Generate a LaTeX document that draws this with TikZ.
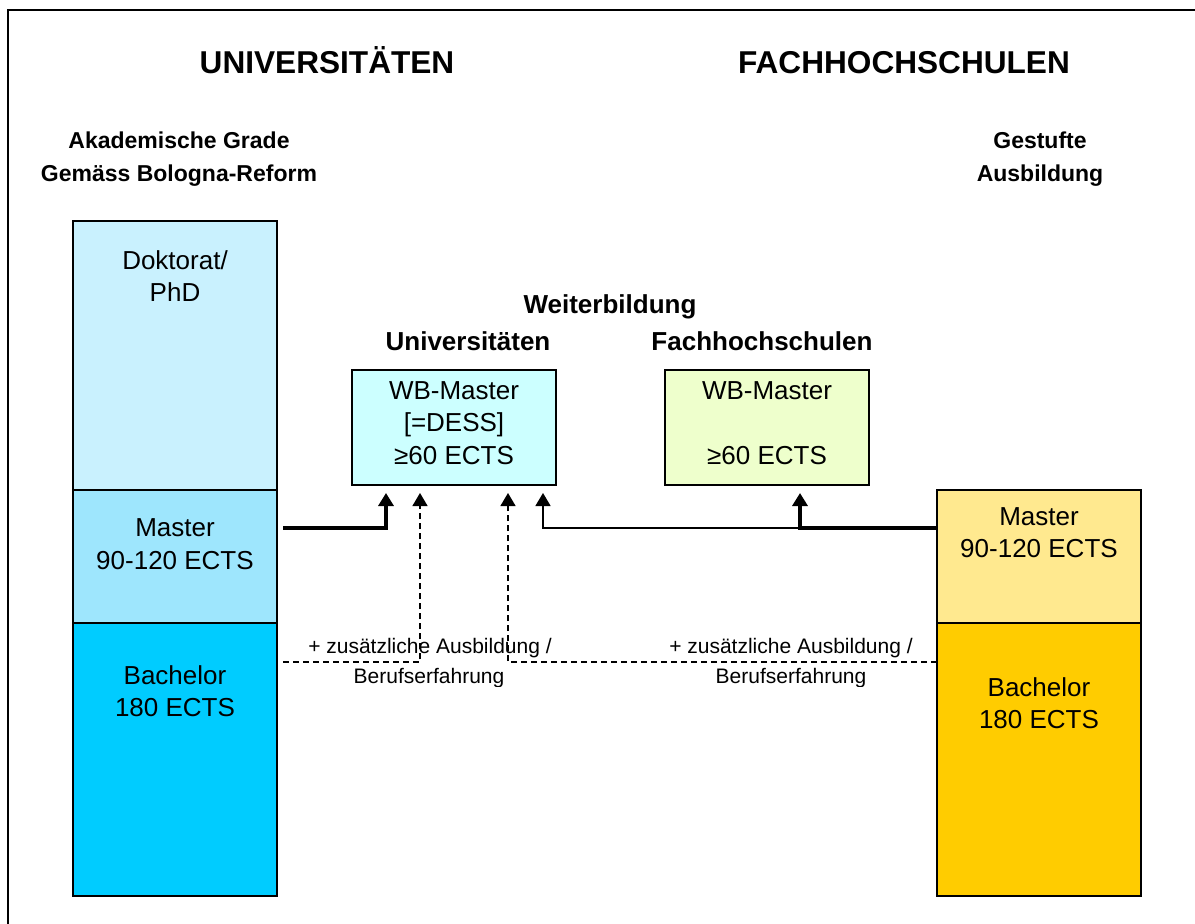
\documentclass[tikz,border=0pt]{standalone}
\usepackage{fontspec}
\setmainfont{Liberation Sans}
\usetikzlibrary{arrows.meta}
\definecolor{dokcol}{HTML}{C9F1FE}
\definecolor{umascol}{HTML}{9EE6FD}
\definecolor{ubachcol}{HTML}{00CCFF}
\definecolor{fmascol}{HTML}{FFE98F}
\definecolor{fbachcol}{HTML}{FFCC00}
\definecolor{wbucol}{HTML}{CCFFFF}
\definecolor{wbfcol}{HTML}{EEFFCC}

\tikzset{
  col/.style={draw, line width=2, minimum width=204, minimum height=#1, inner sep=0},
  wbbox/.style={draw, line width=2, minimum width=204, minimum height=115, inner sep=0},
  body/.style={font=\fontsize{26}{32.5}\selectfont, align=center, inner sep=0},
  head/.style={font=\bfseries\fontsize{31.6}{36}\selectfont, inner sep=0, anchor=base},
  subhead/.style={font=\bfseries\fontsize{23}{33}\selectfont, align=center, inner sep=0},
  wbhead/.style={font=\bfseries\fontsize{26}{33}\selectfont, inner sep=0},
  note/.style={font=\fontsize{21}{30}\selectfont, inner sep=0, anchor=base},
  tip/.style={-{Triangle[length=13pt,width=15pt]}},
  strongpath/.style={line width=3.5},
  thinpath/.style={line width=1.5},
  dashpath/.style={line width=1.3, dash pattern=on 6pt off 4pt},
}

\begin{document}
\begin{tikzpicture}[x=1pt, y=-1pt]
  \useasboundingbox (0,0) rectangle (1195,924);
  \draw[line width=2.2] (8,10) rectangle (1215,940);

  % headings
  \node[head] (huni) at (327,73) {UNIVERSITÄTEN};
  \node[head] (hfh) at (904,73) {FACHHOCHSCHULEN};
  \node[subhead] (hgrade) at (179,159) {Akademische Grade\\Gemäss Bologna-Reform};
  \node[subhead] (hstufe) at (1040,159) {Gestufte\\Ausbildung};

  % universities column
  \node[col=269, fill=dokcol] (udok) at (175,355.5) {};
  \node[col=133, fill=umascol] (umas) at (175,556.5) {};
  \node[col=273, fill=ubachcol] (ubach) at (175,759.5) {};
  \node[body] (tdok) at (175,276) {Doktorat/\\PhD};
  \node[body] (tumas) at (175,544) {Master\\90-120 ECTS};
  \node[body] (tubach) at (175,691) {Bachelor\\180 ECTS};

  % universities of applied sciences column
  \node[col=133, fill=fmascol] (fmas) at (1039,556.5) {};
  \node[col=273, fill=fbachcol] (fbach) at (1039,759.5) {};
  \node[body] (tfmas) at (1039,532.5) {Master\\90-120 ECTS};
  \node[body] (tfbach) at (1039,703) {Bachelor\\180 ECTS};

  % further education
  \node[wbhead] (hwb) at (610,307) {Weiterbildung};
  \node[wbhead] (hwbu) at (468,341) {Universitäten};
  \node[wbhead] (hwbf) at (762,341) {Fachhochschulen};
  \node[wbbox, fill=wbucol] (wbu) at (454,427.5) {};
  \node[wbbox, fill=wbfcol] (wbf) at (767,427.5) {};
  \node[body] (twbu) at (454,423) {WB-Master\\{[}=DESS{]}\\≥60 ECTS};
  \node[body] (twbf) at (767,423) {WB-Master\\\mbox{}\\≥60 ECTS};

  % free ends of the connectors
  \coordinate (uout) at (283,528);
  \coordinate (fout) at (937,528);
  \coordinate (udash) at (283,662);
  \coordinate (fdash) at (937,662);

  \draw[strongpath, tip] (uout) -| ([xshift=35pt,yshift=-7pt]wbu.south west);
  \draw[dashpath, tip] (udash) -| ([xshift=69pt,yshift=-7pt]wbu.south west);
  \draw[dashpath, tip] (fdash) -| ([xshift=-49pt,yshift=-7pt]wbu.south east);
  \draw[thinpath, tip] (fout) -| ([xshift=-14pt,yshift=-7pt]wbu.south east);
  \draw[strongpath, tip] (fout) -| ([xshift=33pt,yshift=-7pt]wbf.south);

  % notes on the dashed paths
  \node[note] (nadd1) at (430,653) {+ zusätzliche Ausbildung /};
  \node[note] (nadd2) at (791,653) {+ zusätzliche Ausbildung /};
  \begin{scope}
    \clip (290,664) rectangle (930,686);
    \node[note] (nexp1) at (429,683) {Berufserfahrung};
    \node[note] (nexp2) at (791,683) {Berufserfahrung};
  \end{scope}
\end{tikzpicture}
\end{document}
